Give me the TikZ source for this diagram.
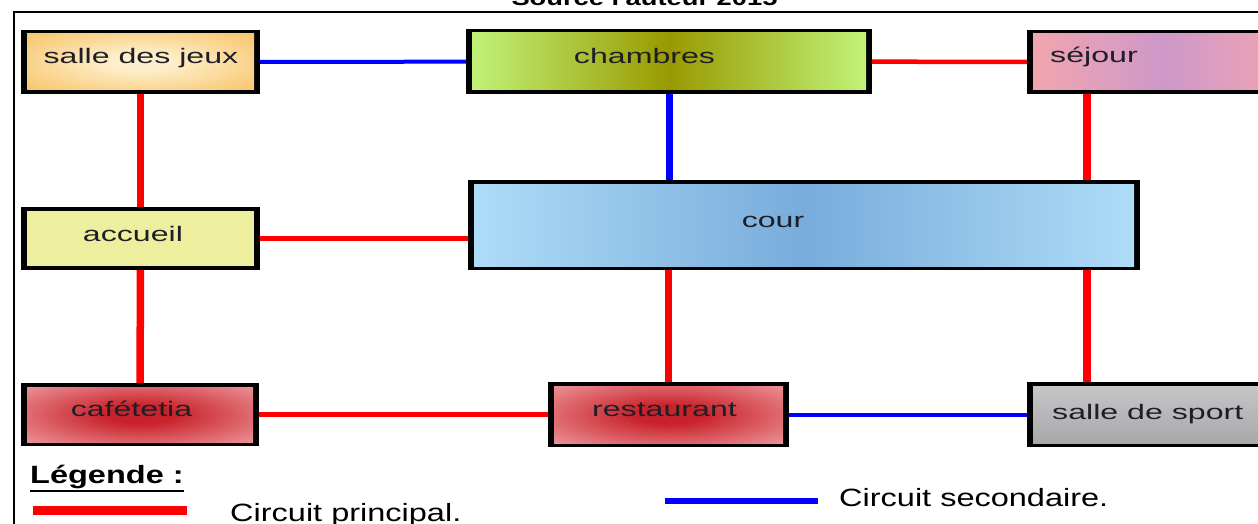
\documentclass[tikz,border=0pt]{standalone}
\usepackage{fontspec}
\usetikzlibrary{calc}
\setmainfont{Liberation Sans}
\newfontfamily\boxfont[FakeStretch=1.53]{Liberation Sans}
\newfontfamily\legfont[FakeStretch=1.3]{Liberation Sans}
\definecolor{sdjIn}{HTML}{FDEFCB}
\definecolor{sdjOut}{HTML}{F7BF5E}
\definecolor{chEdge}{HTML}{C2F57B}
\definecolor{chMid}{HTML}{999A00}
\definecolor{sejEdge}{HTML}{F3A6AD}
\definecolor{sejMid}{HTML}{CE98CA}
\definecolor{accFill}{HTML}{EDEF9E}
\definecolor{courEdge}{HTML}{AEDDF7}
\definecolor{courMid}{HTML}{78ACDC}
\definecolor{redIn}{HTML}{C9222B}
\definecolor{redOut}{HTML}{F5B3B6}
\definecolor{sportTop}{HTML}{C8C8CA}
\definecolor{sportBot}{HTML}{A6A6A8}
\definecolor{lblText}{HTML}{1E1E26}
\definecolor{lineRed}{HTML}{FF0000}
\definecolor{lineBlue}{HTML}{0000FF}
\pgfdeclareradialshading{redglow}{\pgfpoint{0bp}{0bp}}{%
  color(0bp)=(redIn); color(7bp)=(redIn); color(40bp)=(redOut); color(50bp)=(redOut)}
\pgfdeclareradialshading{yellowglow}{\pgfpoint{0bp}{0bp}}{%
  color(0bp)=(sdjIn); color(6bp)=(sdjIn); color(36bp)=(sdjOut); color(50bp)=(sdjOut)}
\tikzset{
  room/.style={rectangle, fill=black, draw=none, inner sep=0pt},
  fillin/.style={path picture={\path[#1]
      ([xshift=6pt,yshift=-4pt]path picture bounding box.north west) rectangle
      ([xshift=-6pt,yshift=4pt]path picture bounding box.south east);}},
  lbl/.style={font={\boxfont\fontsize{21pt}{25pt}\selectfont}, text=lblText, inner sep=0pt, anchor=base},
  leg/.style={font={\legfont\fontsize{25pt}{30pt}\selectfont}, text=black, inner sep=0pt, anchor=base west},
  mainv/.style={draw=lineRed, line width=7.5pt},
  mainh/.style={draw=lineRed, line width=4.5pt},
  secv/.style={draw=lineBlue, line width=7pt},
  sech/.style={draw=lineBlue, line width=4pt},
}
\begin{document}
\begin{tikzpicture}[x=1pt,y=-1pt]
\useasboundingbox (0,0) rectangle (1258,524);
\fill[white] (0,0) rectangle (1258,524);

% title (cut by the top edge, as in the reference)
\node[font={\legfont\bfseries\fontsize{21pt}{25pt}\selectfont}, inner sep=0pt, anchor=base] (title) at (644.5,6) {Source l'auteur 2015};

% frame
\draw[line width=2pt] (14,12) rectangle (1275,545);

% rooms
\node[room, minimum width=239pt, minimum height=64pt,
      fillin={shade, shading=yellowglow}] (sdj) at (140.5,62) {};
\node[room, minimum width=406pt, minimum height=65pt,
      fillin={left color=chEdge, right color=chEdge, middle color=chMid}] (ch) at (669,61.5) {};
\node[room, minimum width=273pt, minimum height=64pt,
      fillin={left color=sejEdge, right color=sejEdge, middle color=sejMid}] (sej) at (1163.5,62) {};
\node[room, minimum width=239pt, minimum height=63pt,
      fillin={fill=accFill}] (acc) at (140.5,238.5) {};
\node[room, minimum width=672pt, minimum height=90pt,
      fillin={left color=courEdge, right color=courEdge, middle color=courMid}] (cour) at (804,225) {};
\node[room, minimum width=238pt, minimum height=63pt,
      fillin={shade, shading=redglow}] (caf) at (140,414.5) {};
\node[room, minimum width=241pt, minimum height=65pt,
      fillin={shade, shading=redglow}] (rest) at (668.5,414.5) {};
\node[room, minimum width=273pt, minimum height=65pt,
      fillin={top color=sportTop, bottom color=sportBot}] (sport) at (1163.5,414.5) {};

% labels
\node[lbl] (tsdj) at (141,64) {salle des jeux};
\node[lbl] (tch) at (644.5,64) {chambres};
\node[lbl, anchor=base west] (tsej) at (1050,63) {séjour};
\node[lbl] (tacc) at (133,241) {accueil};
\node[lbl] (tcour) at (773,227) {cour};
\node[lbl] (tcaf) at (131.5,416) {cafétetia};
\node[lbl] (trest) at (664.5,416) {restaurant};
\node[lbl, anchor=base west] (tsport) at (1052,419) {salle de sport};

% connectors
\coordinate (sj) at ($(sej.south west)+(60,0)$);
\draw[sech] (sdj) -- (ch);
\draw[mainh] (ch) -- (sej);
\draw[mainv] (sdj) -- (acc);
\draw[secv] (ch.south) -- (ch.south |- cour.north);
\draw[mainv] (sj) -- (sj |- cour.north);
\draw[mainh] (acc.east) -- (acc.east -| cour.west);
\draw[mainv] (acc) -- (caf);
\draw[mainv] (rest.north) -- (rest.north |- cour.south);
\draw[mainv] (sj |- cour.south) -- (sj |- sport.north);
\draw[mainh] (caf) -- (rest);
\draw[sech] (rest.east) -- (rest.east -| sport.west);

% legend
\node[leg, font={\legfont\bfseries\fontsize{25pt}{30pt}\selectfont}] (legt) at (30,483) {Légende :};
\draw[line width=2pt] ([yshift=-7.5pt]legt.base west) -- ([yshift=-7.5pt]legt.base east);
\coordinate (r1) at (33,510.5);
\coordinate (r2) at (187,510.5);
\draw[draw=lineRed, line width=9pt] (r1) -- (r2);
\node[leg] (lmain) at (230,521) {Circuit principal.};
\coordinate (b1) at (665,501);
\coordinate (b2) at (818,501);
\draw[draw=lineBlue, line width=6pt] (b1) -- (b2);
\node[leg] (lsec) at (839,506) {Circuit secondaire.};
\end{tikzpicture}
\end{document}
